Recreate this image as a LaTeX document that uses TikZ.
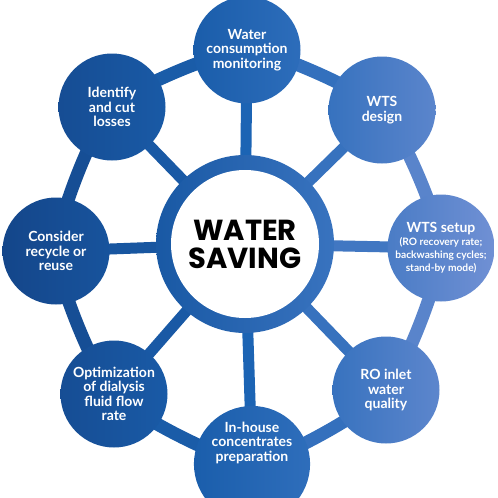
\documentclass[tikz,border=0pt]{standalone}
\usepackage{fontspec}
\setmainfont{Lato}
\newfontfamily\titlefont{Poppins}
\usetikzlibrary{backgrounds}
\definecolor{gA}{RGB}{20,70,138}
\definecolor{gB}{RGB}{28,100,180}
\definecolor{gC}{RGB}{112,144,212}
\begin{document}
\begin{tikzpicture}[x=1pt,y=1pt,
  bubble/.style={circle, inner sep=0pt, outer sep=0pt, minimum size=107pt,
    align=center, text=white, font=\fontsize{14}{14.5}\selectfont\bfseries},
  ringlink/.style={line width=13pt, looseness=0.45},
  spoke/.style={line width=11pt}]
\useasboundingbox (0,0) rectangle (498,-498);

% outer nodes
\node[bubble, left color=gB!77!gA, middle color=gB, right color=gC!20!gB] (mon) at (247,-50) {Water\\consumption\\monitoring};
\node[bubble, left color=gC!32!gB, right color=gC!75!gB] (des) at (382,-110) {WTS\\design};
\node[bubble, left color=gC!55!gB, right color=gC] (set) at (441,-248)
  {{\fontsize{14}{14}\selectfont WTS setup}\\[-1.5pt]
   {\fontsize{10.2}{12}\selectfont (RO recovery rate;}\\[-1.5pt]
   {\fontsize{10.2}{12}\selectfont backwashing cycles;}\\[-1.5pt]
   {\fontsize{10.2}{12}\selectfont stand-by mode)}};
\node[bubble, left color=gC!33!gB, right color=gC!77!gB] (ro) at (386,-390) {RO inlet\\water\\quality};
\node[bubble, left color=gB!80!gA, middle color=gB, right color=gC!22!gB] (inh) at (252,-464) {In-house\\concentrates\\preparation\\[30pt]};
\node[bubble, left color=gB!24!gA, right color=gB!67!gA] (opt) at (114,-394) {Optimization\\of dialysis\\fluid flow\\rate};
\node[bubble, left color=gA, right color=gB!44!gA] (rec) at (56,-251) {Consider\\recycle or\\reuse};
\node[bubble, left color=gB!23!gA, right color=gB!66!gA] (los) at (112,-107) {Identify\\and cut\\losses};

% centre
\node[circle, inner sep=0pt, minimum size=178pt, left color=gB!62!gA, middle color=gB, right color=gC!34!gB] (ring) at (245,-244) {};
\node[circle, inner sep=0pt, minimum size=148pt, fill=white, align=center,
  font=\titlefont\bfseries\fontsize{29}{28}\selectfont] (ctr) at (ring.center) {WATER\\SAVING};

\begin{pgfonlayer}{background}
  % outer ring
  \draw[ringlink, gC!27!gB] (mon.center) to[bend left=22.5] (des.center);
  \draw[ringlink, gC!73!gB] (des.center) to[bend left=22.5] (set.center);
  \draw[ringlink, gC!73!gB] (set.center) to[bend left=22.5] (ro.center);
  \draw[ringlink, gC!28!gB] (ro.center) to[bend left=22.5] (inh.center);
  \draw[ringlink, gB!72!gA] (inh.center) to[bend left=22.5] (opt.center);
  \draw[ringlink, gB!26!gA] (opt.center) to[bend left=22.5] (rec.center);
  \draw[ringlink, gB!26!gA] (rec.center) to[bend left=22.5] (los.center);
  \draw[ringlink, gB!72!gA] (los.center) to[bend left=22.5] (mon.center);
  % spokes
  \draw[spoke, gB] (ring.center) -- (mon.center);
  \draw[spoke, gC!32!gB] (ring.center) -- (des.center);
  \draw[spoke, gC!44!gB] (ring.center) -- (set.center);
  \draw[spoke, gC!32!gB] (ring.center) -- (ro.center);
  \draw[spoke, gB] (ring.center) -- (inh.center);
  \draw[spoke, gB!64!gA] (ring.center) -- (opt.center);
  \draw[spoke, gB!52!gA] (ring.center) -- (rec.center);
  \draw[spoke, gB!64!gA] (ring.center) -- (los.center);
\end{pgfonlayer}
\end{tikzpicture}
\end{document}
